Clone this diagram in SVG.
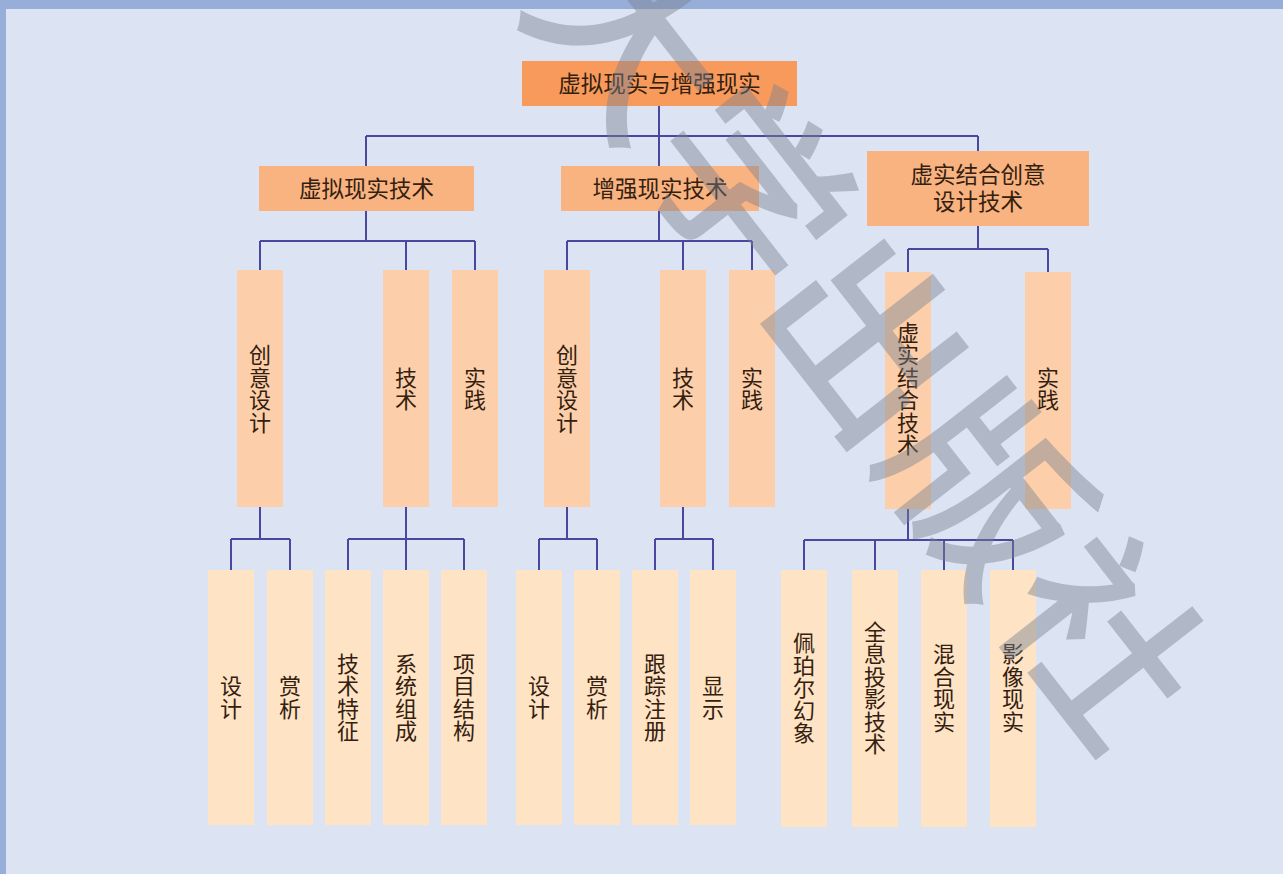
<svg xmlns="http://www.w3.org/2000/svg" width="1283" height="874" viewBox="0 0 1283 874">
<style>
.t{font-family:"Noto Sans CJK SC","Noto Sans",sans-serif;font-size:22.5px;fill:#33200f;text-anchor:middle;dominant-baseline:central}
.v{font-family:"Noto Sans CJK SC","Noto Sans",sans-serif;font-size:22px;fill:#33200f;text-anchor:middle;writing-mode:vertical-rl;text-orientation:upright;letter-spacing:0.5px}
.c{fill:none;stroke:#4848a0;stroke-width:2}
.r0{fill:#f79a5c}
.r1{fill:#f9b381}
.r2{fill:#fccfaa}
.r3{fill:#fee3c4}
.wm{font-family:"Noto Sans CJK SC",sans-serif;font-size:192px;font-weight:500;fill:#7a8090;fill-opacity:0.45;text-anchor:middle;dominant-baseline:central}
</style>
<rect x="0" y="0" width="1283" height="874" fill="#dce3f2"/>
<rect x="0" y="0" width="1283" height="9" fill="#96aed8"/>
<rect x="0" y="0" width="6" height="874" fill="#96aed8"/>

<g id="connectors">
<path class="c" d="M659,106V136M366,136H978M366,136V166M659,136V166M978,136V151"/>
<path class="c" d="M366,211V241M260,241H475M260,241V270M406,241V270M475,241V270"/>
<path class="c" d="M659,211V241M567,241H752M567,241V270M683,241V270M752,241V270"/>
<path class="c" d="M978,226V249M908,249H1048M908,249V272M1048,249V272"/>
<path class="c" d="M260,507V539M231,539H290M231,539V570M290,539V570"/>
<path class="c" d="M406,507V539M348,539H464M348,539V570M406,539V570M464,539V570"/>
<path class="c" d="M567,507V539M539,539H597M539,539V570M597,539V570"/>
<path class="c" d="M683,507V539M655,539H713M655,539V570M713,539V570"/>
<path class="c" d="M908,509V540M804,540H1013M804,540V570M875,540V570M944,540V570M1013,540V570"/>
</g>

<g id="root"><rect class="r0" x="522" y="61" width="275" height="45"/><text class="t" x="659.5" y="81.5">虚拟现实与增强现实</text></g>

<g id="vr"><rect class="r1" x="259" y="166" width="215" height="45"/><text class="t" x="366.5" y="186.5">虚拟现实技术</text></g>
<g id="ar"><rect class="r1" x="561" y="166" width="198" height="45"/><text class="t" x="660" y="186.5">增强现实技术</text></g>
<g id="mix"><rect class="r1" x="867" y="151" width="222" height="75"/><text class="t"><tspan x="978" y="173">虚实结合创意</tspan><tspan x="978" y="200">设计技术</tspan></text></g>

<g id="vr-design"><rect class="r2" x="237" y="270" width="46" height="237"/><text class="v" x="260" y="389">创意设计</text></g>
<g id="vr-tech"><rect class="r2" x="383" y="270" width="46" height="237"/><text class="v" x="406" y="389">技术</text></g>
<g id="vr-prac"><rect class="r2" x="452" y="270" width="46" height="237"/><text class="v" x="475" y="389">实践</text></g>
<g id="ar-design"><rect class="r2" x="544" y="270" width="46" height="237"/><text class="v" x="567" y="389">创意设计</text></g>
<g id="ar-tech"><rect class="r2" x="660" y="270" width="46" height="237"/><text class="v" x="683" y="389">技术</text></g>
<g id="ar-prac"><rect class="r2" x="729" y="270" width="46" height="237"/><text class="v" x="752" y="389">实践</text></g>
<g id="mix-tech"><rect class="r2" x="885" y="272" width="46" height="237"/><text class="v" x="908" y="389">虚实结合技术</text></g>
<g id="mix-prac"><rect class="r2" x="1025" y="272" width="46" height="237"/><text class="v" x="1048" y="389">实践</text></g>

<g id="vr-d1"><rect class="r3" x="208" y="570" width="46" height="255"/><text class="v" x="231" y="697.5">设计</text></g>
<g id="vr-d2"><rect class="r3" x="267" y="570" width="46" height="255"/><text class="v" x="290" y="697.5">赏析</text></g>
<g id="vr-t1"><rect class="r3" x="325" y="570" width="46" height="255"/><text class="v" x="348" y="697.5">技术特征</text></g>
<g id="vr-t2"><rect class="r3" x="383" y="570" width="46" height="255"/><text class="v" x="406" y="697.5">系统组成</text></g>
<g id="vr-t3"><rect class="r3" x="441" y="570" width="46" height="255"/><text class="v" x="464" y="697.5">项目结构</text></g>
<g id="ar-d1"><rect class="r3" x="516" y="570" width="46" height="255"/><text class="v" x="539" y="697.5">设计</text></g>
<g id="ar-d2"><rect class="r3" x="574" y="570" width="46" height="255"/><text class="v" x="597" y="697.5">赏析</text></g>
<g id="ar-t1"><rect class="r3" x="632" y="570" width="46" height="255"/><text class="v" x="655" y="697.5">跟踪注册</text></g>
<g id="ar-t2"><rect class="r3" x="690" y="570" width="46" height="255"/><text class="v" x="713" y="697.5">显示</text></g>
<g id="mix-t1"><rect class="r3" x="781" y="570" width="46" height="257"/><text class="v" x="804" y="688">佩珀尔幻象</text></g>
<g id="mix-t2"><rect class="r3" x="852" y="570" width="46" height="257"/><text class="v" x="875" y="688">全息投影技术</text></g>
<g id="mix-t3"><rect class="r3" x="921" y="570" width="46" height="257"/><text class="v" x="944" y="688">混合现实</text></g>
<g id="mix-t4"><rect class="r3" x="990" y="570" width="46" height="257"/><text class="v" x="1013" y="688">影像现实</text></g>

<g id="watermark"><text class="wm" transform="translate(878,330) rotate(52)" x="0" y="0">大学出版社</text></g>
</svg>
